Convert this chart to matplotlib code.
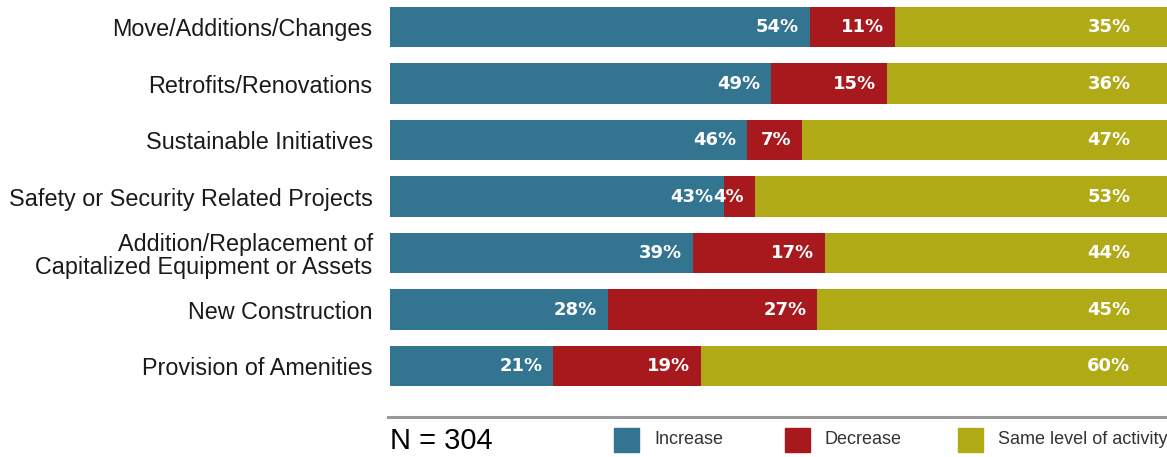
import matplotlib.pyplot as plt
from matplotlib.lines import Line2D
from matplotlib.patches import Rectangle

categories = ['Move/Additions/Changes', 'Retrofits/Renovations', 'Sustainable Initiatives',
              'Safety or Security Related Projects',
              'Addition/Replacement of\nCapitalized Equipment or Assets',
              'New Construction', 'Provision of Amenities']
increase = [54, 49, 46, 43, 39, 28, 21]
decrease = [11, 15, 7, 4, 17, 27, 19]
same = [35, 36, 47, 53, 44, 45, 60]
series_names = ['Increase', 'Decrease', 'Same level of activity']
colors = ['#337591', '#A8191E', '#B0AA17']

plt.rcParams['font.family'] = ['Liberation Sans', 'DejaVu Sans']

W, H = 1167, 457
fig = plt.figure(figsize=(W / 100, H / 100), dpi=100)
ax = fig.add_axes([390 / W, 1 - 395 / H, 1 - 390 / W, 395 / H])

y = list(range(len(categories)))
lefts = [0] * len(categories)
for vals, col in zip([increase, decrease, same], colors):
    ax.barh(y, vals, left=lefts, height=0.71, color=col)
    for i, v in enumerate(vals):
        end = lefts[i] + v
        if col == colors[2]:
            xpos = 95.3
        else:
            xpos = end - 1.4
        ax.text(xpos, i, f'{v}%', ha='right', va='center', color='white',
                fontsize=13, fontweight='bold', family='DejaVu Sans')
    lefts = [a + b for a, b in zip(lefts, vals)]

ax.set_xlim(0, 100)
ax.set_ylim(6.513, -0.478)
ax.set_yticks(y)
ax.set_yticklabels(categories, fontsize=16.8, color='#1a1a1a', linespacing=1.05)
ax.tick_params(axis='y', length=0, pad=12.5)
ax.set_xticks([])
for s in ax.spines.values():
    s.set_visible(False)

fig.add_artist(Line2D([388 / W, 1], [1 - 417 / H, 1 - 417 / H], color='#999999', lw=2.2))
fig.text(390 / W, 1 - 441 / H, 'N = 304', fontsize=21, va='center', ha='left', color='black')

legend_x = [614, 785, 958]
for lx, name, col in zip(legend_x, series_names, colors):
    fig.add_artist(Rectangle((lx / W, 1 - 452 / H), 25 / W, 24 / H, color=col,
                             transform=fig.transFigure))
    fig.text((lx + 40) / W, 1 - 440 / H, name, fontsize=13, va='center', ha='left',
             color='#333333')

fig.savefig('out.png', dpi=100)
